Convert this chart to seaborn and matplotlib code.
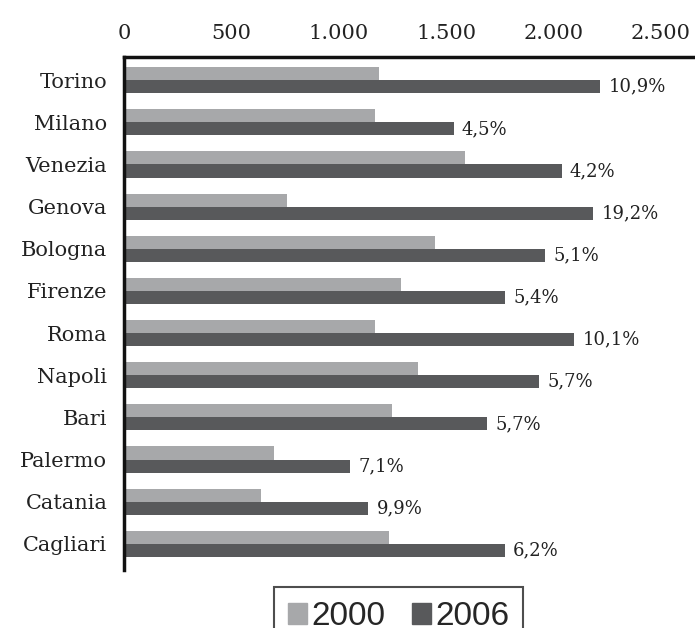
import numpy as np
import matplotlib as mpl
mpl.use('Agg')

import matplotlib.pyplot as plt
import seaborn as sns
import pandas as pd

# values
cities = ["Torino", "Milano", "Venezia", "Genova", "Bologna", "Firenze",
          "Roma", "Napoli", "Bari", "Palermo", "Catania", "Cagliari"]
val_2000 = [1187, 1170, 1587, 757, 1446, 1290, 1170, 1369, 1249, 698, 639, 1234]
val_2006 = [2216, 1534, 2037, 2183, 1960, 1773, 2095, 1933, 1692, 1052, 1137, 1773]
growth = ["10,9%", "4,5%", "4,2%", "19,2%", "5,1%", "5,4%",
          "10,1%", "5,7%", "5,7%", "7,1%", "9,9%", "6,2%"]
years = ["2000", "2006"]
xticks = [0, 500, 1000, 1500, 2000, 2500]
xtick_labels = ["0", "500", "1.000", "1.500", "2.000", "2.500"]
colors = ["#a7a8aa", "#58595b"]


def main():
    df = pd.DataFrame({
        "city": cities * 2,
        "value": val_2000 + val_2006,
        "year": [years[0]] * len(cities) + [years[1]] * len(cities),
    })

    sns.set_style("white")
    plt.rcParams['font.family'] = ['DejaVu Serif']

    fig = plt.figure(figsize=(6.95, 6.28), dpi=100)
    ax = fig.add_axes([124 / 695, 58 / 628, 571 / 695, 513 / 628])

    sns.barplot(data=df, y="city", x="value", hue="year", palette=colors,
                orient="h", width=0.62, dodge=True, saturation=1,
                edgecolor="none", ax=ax, legend=False)

    ax.bar_label(ax.containers[1], labels=growth, padding=6, fontsize=13,
                 color="#222222")

    ax.set_xlim(0, 2658)
    ax.set_ylim(11.62, -0.55)
    ax.xaxis.tick_top()
    ax.set_xticks(xticks)
    ax.set_xticklabels(xtick_labels, fontsize=15, color="#222222")
    ax.tick_params(axis="x", length=0, pad=10)
    ax.tick_params(axis="y", length=0, pad=12, labelsize=15,
                   labelcolor="#222222")
    ax.set_xlabel("")
    ax.set_ylabel("")

    for side in ["right", "bottom"]:
        ax.spines[side].set_visible(False)
    for side in ["top", "left"]:
        ax.spines[side].set_linewidth(2.5)
        ax.spines[side].set_color("#111111")

    handles = [mpl.patches.Patch(color=c, label=y) for c, y in zip(colors, years)]
    leg = fig.legend(handles=handles, loc="upper left", ncol=2,
                     bbox_to_anchor=(274 / 695, 1 - 587 / 628),
                     borderaxespad=0,
                     prop={"family": "Liberation Sans", "size": 24},
                     handlelength=0.58, handleheight=0.58, handletextpad=0.12,
                     columnspacing=0.8, borderpad=0.42, fancybox=False,
                     frameon=True)
    leg.get_frame().set_edgecolor("#222222")
    leg.get_frame().set_linewidth(1.5)

    fig.savefig("out.png", dpi=100)
    plt.close()


if __name__ == "__main__":
    main()
